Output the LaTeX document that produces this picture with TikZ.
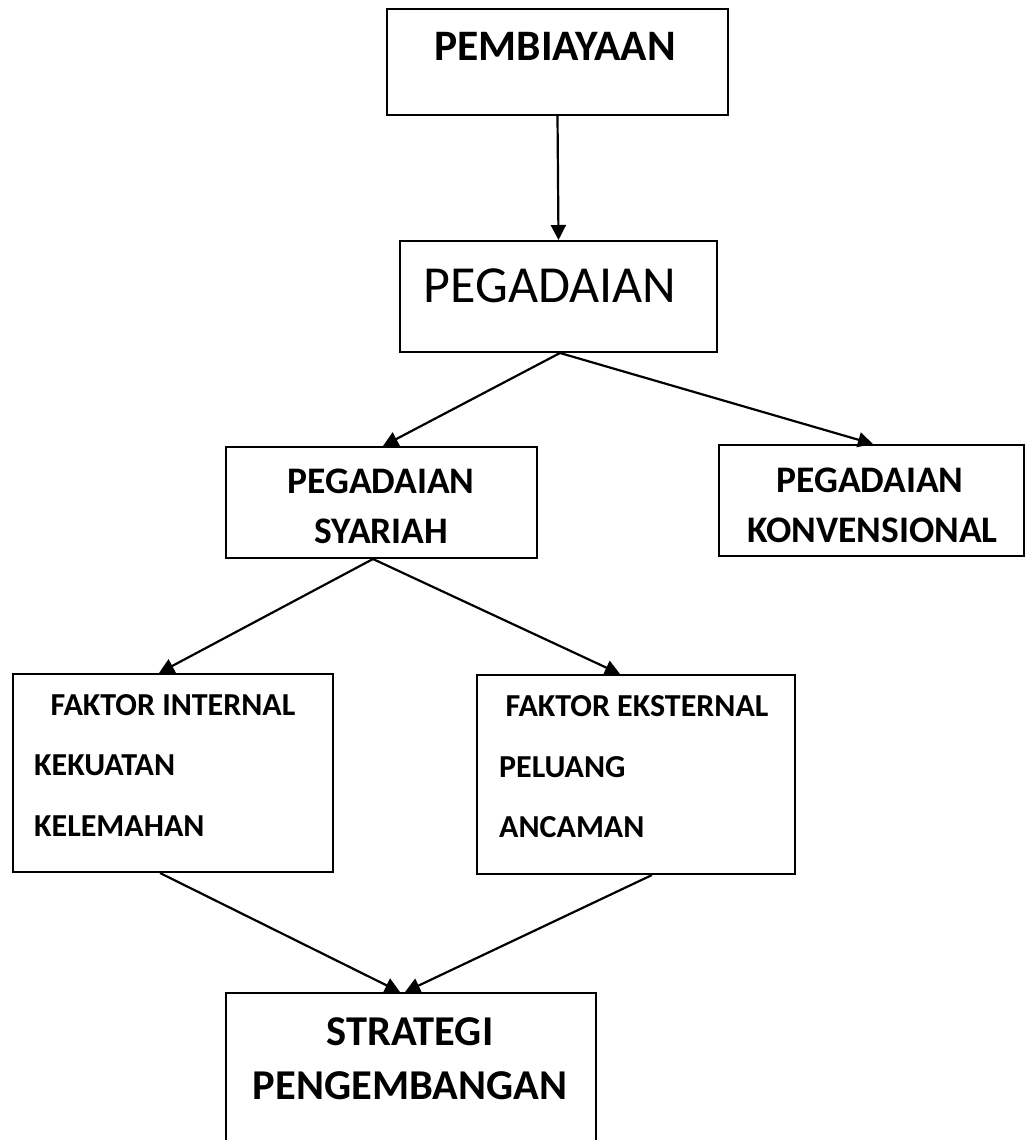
\documentclass[tikz,border=0pt]{standalone}
\usepackage{fontspec}
\setmainfont{Carlito}
\usetikzlibrary{arrows.meta}
\begin{document}
\begin{tikzpicture}[x=1pt,y=-1pt,
  box/.style={draw,line width=2pt,rectangle,inner sep=0pt},
  lbl/.style={anchor=base,inner sep=0pt},
  lbll/.style={anchor=base west,inner sep=0pt},
  conn/.style={line width=2.2pt,-{Triangle[length=15pt,width=15pt]}},
  fA/.style={font=\fontsize{43.5}{50}\selectfont\bfseries},
  fB/.style={font=\fontsize{52}{60}\selectfont},
  fC/.style={font=\fontsize{37.5}{44}\selectfont\bfseries},
  fD/.style={font=\fontsize{32}{38}\selectfont\bfseries},
  fE/.style={font=\fontsize{42.5}{50}\selectfont\bfseries}]
\useasboundingbox (0,0) rectangle (1025,1140);
% boxes
\node[box,minimum width=341pt,minimum height=106pt] (b1) at (557.5,62) {};
\node[box,minimum width=317pt,minimum height=111pt] (b2) at (558.5,296.5) {};
\node[box,minimum width=311pt,minimum height=111pt] (b3) at (381.5,502.5) {};
\node[box,minimum width=305pt,minimum height=111pt] (b4) at (871.5,500.5) {};
\node[box,minimum width=320pt,minimum height=198pt] (b5) at (173,773) {};
\node[box,minimum width=318pt,minimum height=199pt] (b6) at (636,774.5) {};
\node[box,minimum width=370pt,minimum height=154pt] (b7) at (411,1070) {};
% texts
\node[lbl,fA] (t1) at (555,60) {PEMBIAYAAN};
\node[lbl,fB] (t2) at (550,302) {PEGADAIAN};
\node[lbl,fC] (t3a) at (381,493) {PEGADAIAN};
\node[lbl,fC] (t3b) at (381.5,543) {SYARIAH};
\node[lbl,fC] (t4a) at (870,492) {PEGADAIAN};
\node[lbl,fC] (t4b) at (872.5,542) {KONVENSIONAL};
\node[lbl,fD] (t5a) at (173,715) {FAKTOR INTERNAL};
\node[lbll,fD] (t5b) at (34,775) {KEKUATAN};
\node[lbll,fD] (t5c) at (34,836) {KELEMAHAN};
\node[lbl,fD] (t6a) at (637,716) {FAKTOR EKSTERNAL};
\node[lbll,fD] (t6b) at (499,777) {PELUANG};
\node[lbll,fD] (t6c) at (499,837) {ANCAMAN};
\node[lbl,fE] (t7a) at (410,1045) {STRATEGI};
\node[lbl,fE] (t7b) at (410,1099) {PENGEMBANGAN};
% connectors
\draw[conn] (b1.south) -- (b2.north);
\draw[conn] ([xshift=1.5pt]b2.south) -- ([xshift=1.5pt]b3.north);
\draw[conn] ([xshift=1.5pt]b2.south) -- ([xshift=1.5pt]b4.north);
\draw[conn] ([xshift=-8.5pt]b3.south) -- ([xshift=-14pt]b5.north);
\draw[conn] ([xshift=-8.5pt]b3.south) -- ([xshift=-16pt]b6.north);
\draw[conn] ([xshift=-13pt]b5.south) -- ([xshift=-11pt]b7.north);
\draw[conn] ([xshift=16pt]b6.south) -- ([xshift=-6pt]b7.north);
\end{tikzpicture}
\end{document}
